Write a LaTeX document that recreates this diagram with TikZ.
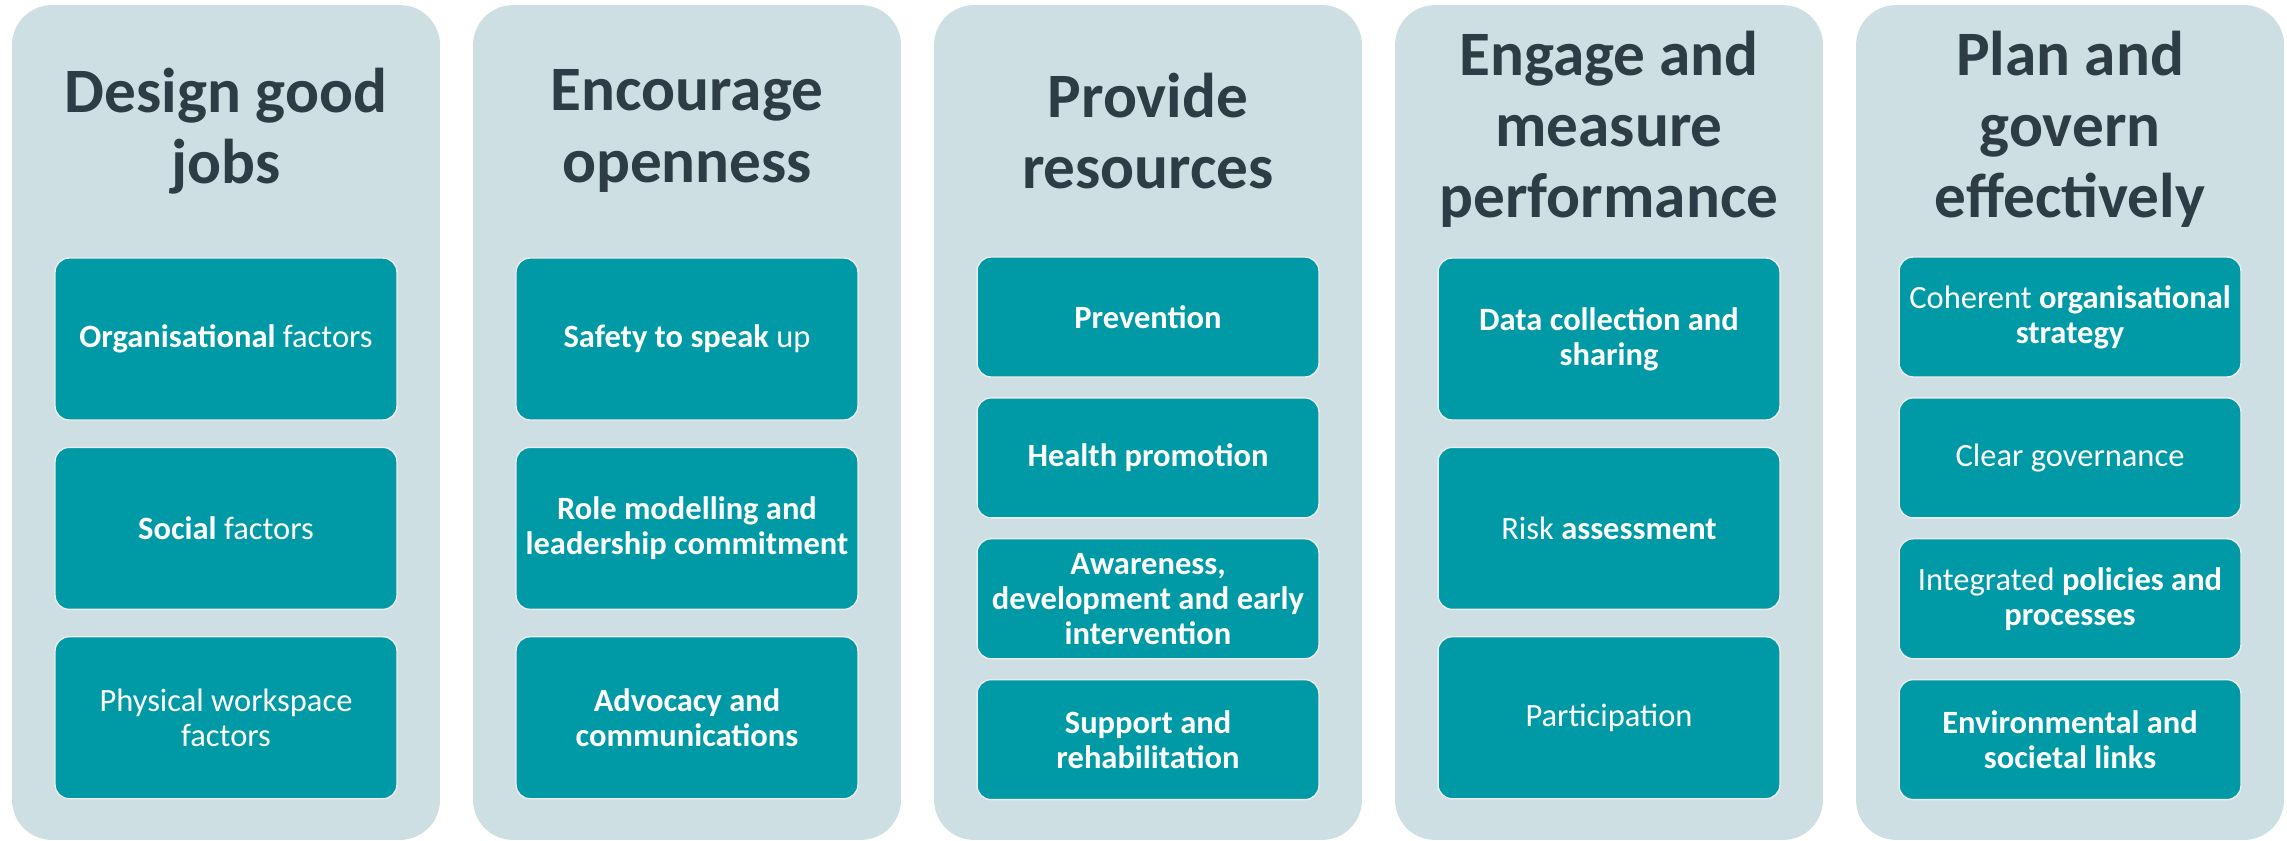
\documentclass[tikz,border=0pt]{standalone}
\usepackage{fontspec}
\setmainfont{Carlito}
\usetikzlibrary{positioning}

\definecolor{panelgrey}{HTML}{CDDFE3}
\definecolor{itemteal}{HTML}{009AA6}
\definecolor{headdark}{HTML}{2E3C45}

\tikzset{
  panel/.style={fill=panelgrey, rounded corners=0.8cm, inner sep=0pt,
    minimum width=8.56cm, minimum height=16.7cm},
  heading/.style={text=headdark, align=center, inner sep=0pt,
    font=\fontsize{36}{40.5}\selectfont\bfseries},
  item/.style={fill=itemteal, draw=gray!15, line width=0.8pt, text=white,
    rounded corners=0.28cm, align=center, inner sep=0pt,
    minimum width=6.84cm, minimum height=3.24cm,
    font=\fontsize{18.5}{20}\selectfont},
  itemb/.style={item, font=\fontsize{18.5}{20}\selectfont\bfseries},
  short/.style={minimum height=2.4cm}
}

\begin{document}
\begin{tikzpicture}[x=0.02cm,y=-0.02cm]

\path[use as bounding box, fill=white] (0,0) rectangle (2287,841);

% design good jobs
\node[panel] (p1) at (226,422.5) {};
\node[heading] (h1) at (226,131) {Design good\\jobs};
\node[item] (org) at (226,339) {\textbf{Organisational} factors};
\node[item, below=0.52cm of org] (soc) {\textbf{Social} factors};
\node[item, below=0.52cm of soc] (phys) {Physical workspace\\factors};

% encourage openness
\node[panel] (p2) at (687,422.5) {};
\node[heading] (h2) at (687,131) {Encourage\\openness};
\node[item] (safe) at (687,339) {\textbf{Safety to speak} up};
\node[itemb, below=0.52cm of safe] (role) {Role modelling and\\leadership commitment};
\node[itemb, below=0.52cm of role] (adv) {Advocacy and\\communications};

% provide resources
\node[panel] (p3) at (1148,422.5) {};
\node[heading] (h3) at (1148,131) {Provide\\resources};
\node[itemb, short] (prev) at (1148,317) {Prevention};
\node[itemb, short, below=0.39cm of prev] (health) {Health promotion};
\node[itemb, short, below=0.39cm of health] (aware) {Awareness,\\development and early\\intervention};
\node[itemb, short, below=0.39cm of aware] (supp) {Support and\\rehabilitation};

% engage and measure performance
\node[panel] (p4) at (1609,422.5) {};
\node[heading] (h4) at (1609,129) {Engage and\\measure\\performance};
\node[itemb] (data) at (1609,339) {Data collection and\\sharing};
\node[item, below=0.52cm of data] (risk) {Risk \textbf{assessment}};
\node[item, below=0.52cm of risk] (part) {Participation};

% plan and govern effectively
\node[panel] (p5) at (2070,422.5) {};
\node[heading] (h5) at (2070,129) {Plan and\\govern\\effectively};
\node[item, short] (strat) at (2070,317) {Coherent \textbf{organisational}\\\textbf{strategy}};
\node[item, short, below=0.39cm of strat] (gov) {Clear governance};
\node[item, short, below=0.39cm of gov] (pol) {Integrated \textbf{policies and}\\\textbf{processes}};
\node[itemb, short, below=0.39cm of pol] (env) {Environmental and\\societal links};

\end{tikzpicture}
\end{document}
